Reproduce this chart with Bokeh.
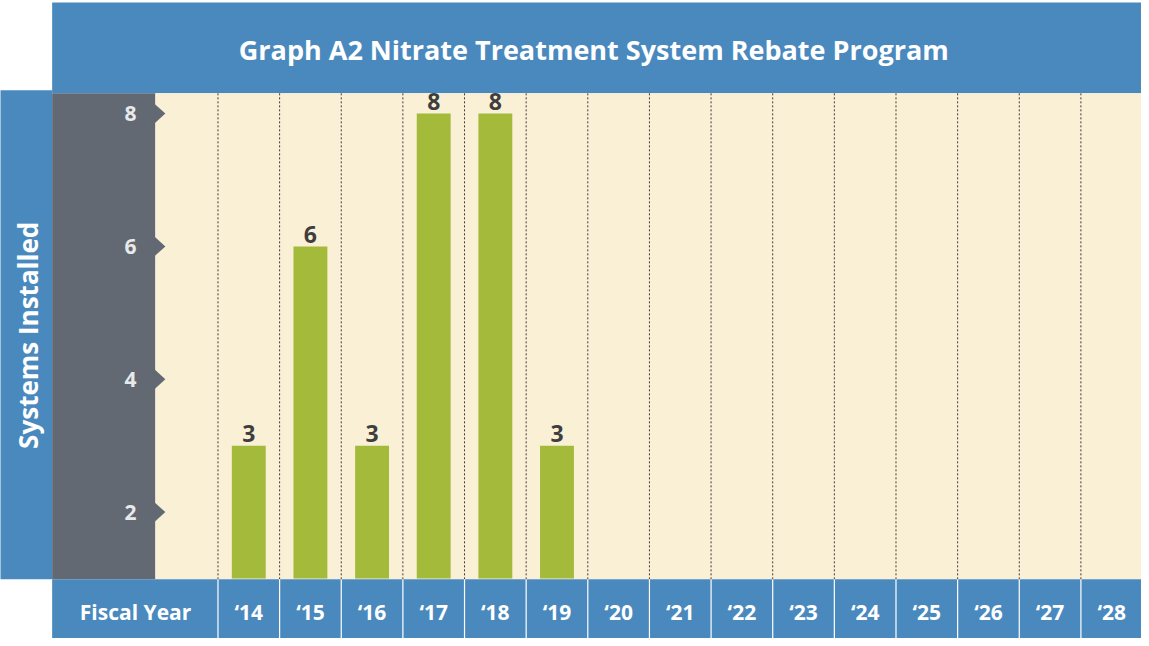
import math
from bokeh.plotting import figure
from bokeh.models import Range1d, ColumnDataSource
from bokeh.core.properties import value
from bokeh.embed import file_html
from bokeh.resources import INLINE

# ---------------- data ----------------
title_text = "Graph A2  Nitrate Treatment System Rebate Program"
y_title = "Systems Installed"
x_title = "Fiscal Year"
years = ["\u201814", "\u201815", "\u201816", "\u201817", "\u201818", "\u201819", "\u201820",
         "\u201821", "\u201822", "\u201823", "\u201824", "\u201825", "\u201826", "\u201827", "\u201828"]
bar_years = ["\u201814", "\u201815", "\u201816", "\u201817", "\u201818", "\u201819"]
installed = [3, 6, 3, 8, 8, 3]
y_ticks = [2, 4, 6, 8]
y_base = 1

# ---------------- colours ----------------
BLUE = "#4A89BE"
GREY = "#626973"
CREAM = "#FAF0D6"
GREEN = "#A4BA3A"
DARK = "#3E3E3E"
FONT = value("Open Sans")

# reference-pixel -> data helpers (layout only)
COL = 62.07
UNIT = 67.25
def X(px):
    return (px - 219.0) / COL
def Y(py):
    return 2 + (518.0 - py) / UNIT

W, H = 1141, 638
p = figure(width=W, height=H, x_range=Range1d(X(0), X(1149)), y_range=Range1d(Y(646), Y(0)),
           x_axis_type=None, y_axis_type=None, min_border=0, toolbar_location=None,
           output_backend="svg", background_fill_color="white", border_fill_color="white",
           outline_line_color=None)

xl, xr = X(0) - 1, X(1149) + 1
yt, yb = Y(0) + 1, Y(646) - 1
# bands
p.quad(left=[X(52)], right=[xr], top=[Y(2)], bottom=[Y(94)], color=BLUE, line_color=None)
p.quad(left=[xl], right=[X(52)], top=[Y(91)], bottom=[Y(586)], color=BLUE, line_color=None)
p.quad(left=[X(52)], right=[X(156)], top=[Y(94)], bottom=[Y(586)], color=GREY, line_color=None)
p.quad(left=[X(156)], right=[xr], top=[Y(94)], bottom=[Y(586)], color=CREAM, line_color=None)
p.quad(left=[X(52)], right=[xr], top=[Y(586)], bottom=[yb], color=BLUE, line_color=None)

# notches on the grey panel at the ticks
nh = 10 / UNIT
p.patches(xs=[[X(155), X(166), X(155)] for t in y_ticks],
          ys=[[t + nh, t, t - nh] for t in y_ticks], color=GREY, line_color=None)

# column separators
n = len(years)
bounds = list(range(n))
p.segment(x0=bounds, x1=bounds, y0=[Y(94)] * n, y1=[Y(586)] * n,
          line_color="#3A3A3A", line_width=1, line_dash="2 2")
p.segment(x0=bounds, x1=bounds, y0=[Y(586)] * n, y1=[yb] * n,
          line_color="white", line_width=1.2)

# bars
centers = [years.index(y) + 0.5 for y in bar_years]
src = ColumnDataSource(dict(x=centers, top=installed, lab=[str(v) for v in installed]))
p.vbar(x="x", top="top", bottom=y_base, width=0.55, source=src, color=GREEN, line_color=None)
p.text(x="x", y="top", text="lab", source=src, text_align="center", text_baseline="alphabetic",
       y_offset=-12, text_font=FONT, text_font_style="bold", text_font_size="23px", text_color=DARK)

# y tick labels
p.text(x=[X(137)] * len(y_ticks), y=y_ticks, text=[str(t) for t in y_ticks], text_align="right",
       text_baseline="middle", text_font=FONT, text_font_style="bold", text_font_size="21px",
       text_color="#E8E9EB")

# x labels
p.text(x=[i + 0.5 for i in range(n)], y=[Y(619)] * n, text=years, text_align="center",
       text_baseline="middle", text_font=FONT, text_font_style="bold", text_font_size="21px",
       text_color="white")
p.text(x=[X(136)], y=[Y(619)], text=[x_title], text_align="center", text_baseline="middle",
       text_font=FONT, text_font_style="bold", text_font_size="21px", text_color="white")

# titles
p.text(x=[X(601)], y=[Y(50)], text=[title_text], text_align="center", text_baseline="middle",
       text_font=FONT, text_font_style="bold", text_font_size="27px", text_color="white")
p.text(x=[X(28)], y=[Y(339)], text=[y_title], angle=math.pi / 2, text_align="center",
       text_baseline="middle", text_font=FONT, text_font_style="bold", text_font_size="26px",
       text_color="white")

open("out.html", "w").write(file_html(p, INLINE))
